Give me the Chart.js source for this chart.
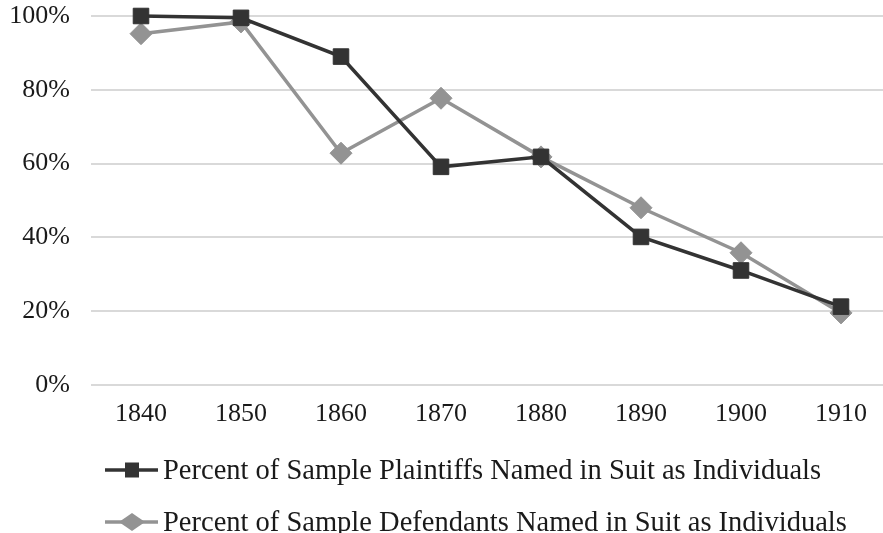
<!DOCTYPE html>
<html>
<head>
<meta charset="utf-8">
<script src="https://cdn.jsdelivr.net/npm/chart.js@4/dist/chart.umd.min.js"></script>
<style>
  html, body { margin: 0; padding: 0; background: #fff; overflow: hidden; width: 883px; height: 533px; }
  #c { position: absolute; left: 0; top: 0; }
  #legend { position: absolute; left: 105px; top: 444px; font-family: "Liberation Serif", serif; font-size: 28.5px; color: #1a1a1a; }
  .item { display: flex; align-items: center; height: 52px; }
  .item canvas { margin-right: 5px; }
</style>
</head>
<body>
<canvas id="c" width="891" height="440"></canvas>
<div id="legend"></div>
<script>
const categories = ["1840", "1850", "1860", "1870", "1880", "1890", "1900", "1910"];
const plaintiffs = [100, 99.5, 89, 59.1, 61.8, 40.1, 31, 21.2];
const defendants = [95.2, 98.4, 62.8, 77.7, 61.8, 48.0, 35.8, 19.5];
const seriesNames = [
  "Percent of Sample Plaintiffs Named in Suit as Individuals",
  "Percent of Sample Defendants Named in Suit as Individuals"
];
const yTicks = [0, 20, 40, 60, 80, 100];

const dark = "#333333";
const grey = "#939393";

const tickFont = { family: "'Liberation Serif', serif", size: 26 };

const chart = new Chart(document.getElementById("c"), {
  type: "line",
  data: {
    labels: categories,
    datasets: [
      {
        label: seriesNames[0],
        data: plaintiffs,
        borderColor: dark,
        backgroundColor: dark,
        borderWidth: 3.5,
        pointStyle: "rect",
        pointRadius: 11,
        pointBorderWidth: 1,
        tension: 0,
        clip: false
      },
      {
        label: seriesNames[1],
        data: defendants,
        borderColor: grey,
        backgroundColor: grey,
        borderWidth: 3.5,
        pointStyle: "rectRot",
        pointRadius: 11,
        pointBorderWidth: 1,
        tension: 0,
        clip: false
      }
    ]
  },
  options: {
    responsive: false,
    animation: false,
    layout: { autoPadding: false, padding: { top: 0, right: 0, left: 0, bottom: 4 } },
    plugins: {
      legend: { display: false },
      tooltip: { enabled: false }
    },
    scales: {
      x: {
        offset: true,
        grid: { display: false },
        border: { display: false },
        afterFit: (s) => { s.paddingLeft = 0; s.paddingRight = 0; },
        ticks: { color: "#1a1a1a", font: tickFont, padding: 6, maxRotation: 0 }
      },
      y: {
        min: 0,
        max: 100,
        afterBuildTicks: (s) => { s.ticks = yTicks.map(v => ({ value: v })); },
        afterFit: (s) => { s.width = 91; s.paddingTop = 16; s.paddingBottom = 0; },
        grid: { color: "#d9d9d9", lineWidth: 2, drawTicks: false },
        border: { display: false },
        ticks: {
          color: "#1a1a1a",
          font: tickFont,
          padding: 21,
          callback: (v) => v + "%"
        }
      }
    }
  }
});

// HTML legend with line + marker symbols
const legend = document.getElementById("legend");
chart.data.datasets.forEach((ds, i) => {
  const item = document.createElement("div");
  item.className = "item";
  const sym = document.createElement("canvas");
  sym.width = 53; sym.height = 24;
  const g = sym.getContext("2d");
  g.strokeStyle = ds.borderColor;
  g.lineWidth = 3.5;
  g.beginPath(); g.moveTo(0, 12); g.lineTo(53, 12); g.stroke();
  g.fillStyle = ds.backgroundColor;
  g.beginPath();
  if (i === 0) {
    g.rect(20, 4.5, 14, 15);
  } else {
    g.moveTo(27, 3); g.lineTo(40, 12); g.lineTo(27, 21); g.lineTo(14, 12); g.closePath();
  }
  g.fill();
  const txt = document.createElement("span");
  txt.textContent = ds.label;
  item.appendChild(sym);
  item.appendChild(txt);
  legend.appendChild(item);
});
</script>
</body>
</html>
